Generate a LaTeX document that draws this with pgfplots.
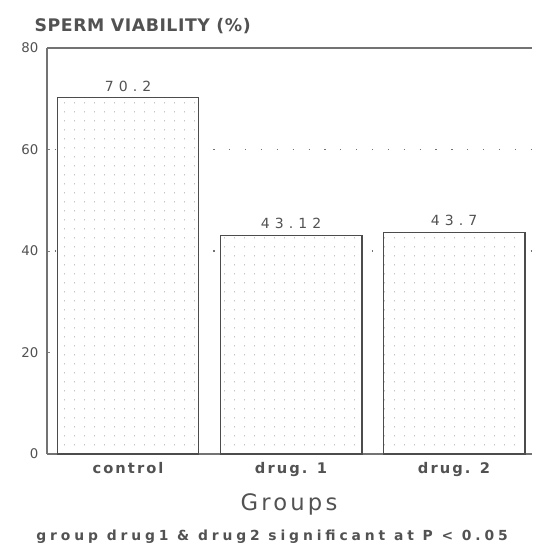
\documentclass[border=0pt]{standalone}
\usepackage{fontspec}
\setmainfont{DejaVu Sans}
\usepackage{pgfplots}
\pgfplotsset{compat=1.18}
\usetikzlibrary{patterns.meta}

\tikzdeclarepattern{
  name=sparsedots,
  type=uncolored,
  bottom left={(0pt,0pt)},
  top right={(7.5pt,6.8pt)},
  tile size={(7.5pt,6.8pt)},
  code={\fill (3.75pt,3.4pt) circle (0.45pt);}
}

\definecolor{ink}{gray}{0.32}
\newcommand{\wide}[1]{\addfontfeature{LetterSpace=#1}}

\begin{document}
\begin{tikzpicture}
\begin{axis}[
    scale only axis,
    width=363.75pt,
    height=304.5pt,
    xmin=-0.497, xmax=2.478,
    ymin=0, ymax=80,
    axis x line=box,
    axis y line=left,
    axis line style={draw=black!55, line width=0.8pt, -},
    ytick={0,20,40,60,80},
    xtick={0,1,2},
    xticklabels={control,drug. 1,drug. 2},
    x tick style={draw=none},
    y tick style={draw=black!50, line width=0.5pt},
    tick align=inside,
    major tick length=2pt,
    /pgf/number format/assume math mode=true,
    yticklabel style={font=\fontsize{10}{12}\selectfont, text=ink, xshift=-3pt},
    xticklabel style={font=\fontsize{11}{13}\selectfont\bfseries\wide{14}, text=ink, yshift=-3pt},
    clip=false,
]
% dotted reference lines
\addplot[draw=black!55, line width=1.1pt, dash pattern=on 0.9pt off 11pt, forget plot]
  coordinates {(-0.45,60) (2.478,60)};
\addplot[draw=black!55, line width=1.1pt, dash pattern=on 0.9pt off 11pt, forget plot]
  coordinates {(-0.45,40) (2.478,40)};

\addplot[
    ybar, bar width=0.87,
    draw=black!70, line width=0.8pt,
    fill=white,
    postaction={pattern=sparsedots, pattern color=black!45},
    nodes near coords,
    point meta=explicit symbolic,
    every node near coord/.append style={font=\fontsize{10.5}{12}\selectfont\wide{36}, text=ink, yshift=1pt},
] coordinates {
    (0,70.2) [70.2]
    (1,43.12) [43.12]
    (2,43.7) [43.7]
};

\coordinate (bl) at (rel axis cs:0,0);
\coordinate (tr) at (rel axis cs:1,1);
\node[anchor=base west, font=\fontsize{13}{15}\selectfont\bfseries\wide{3}, text=ink]
  at ([xshift=-12.75pt,yshift=12pt]rel axis cs:0,1) {SPERM VIABILITY (\%)};
\node[anchor=base, font=\fontsize{17}{19}\selectfont\wide{14}, text=ink]
  at ([yshift=-42pt]rel axis cs:0.499,0) {Groups};
\node[anchor=base, font=\fontsize{10.4}{12}\selectfont\bfseries\wide{28}, text=ink]
  at ([yshift=-65pt]rel axis cs:0.464,0) {group drug1 \& drug2 significant at P < 0.05};
\end{axis}
\pgfresetboundingbox
\path[use as bounding box] ([xshift=-35.25pt,yshift=-70.5pt]bl) rectangle ([yshift=36pt]tr);
\end{tikzpicture}
\end{document}
